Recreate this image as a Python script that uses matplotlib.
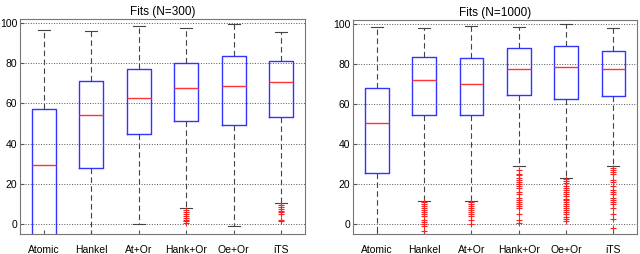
import matplotlib
matplotlib.use("Agg")
import matplotlib.pyplot as plt

plt.rcParams['font.family'] = ['Liberation Sans', 'DejaVu Sans']

labels = ["Atomic", "Hankel", "At+Or", "Hank+Or", "Oe+Or", "iTS"]

# N=300: (lower whisker, Q1, median, Q3, upper whisker)
stats_300 = [
    (-8, -8, 29.5, 57.3, 96.7),
    (-8, 28.0, 54.0, 71.2, 96.0),
    (0.0, 44.7, 62.6, 77.2, 98.6),
    (8.1, 51.0, 67.9, 80.0, 97.6),
    (-1.2, 49.0, 68.8, 83.7, 99.7),
    (10.3, 53.0, 70.6, 81.2, 95.7),
]
fliers_300 = [
    [],
    [],
    [],
    [7, 6, 5, 4, 3, 2, 1.5, 0.5],
    [],
    [9.5, 8.5, 7.5, 6.5, 6, 5, 2, 1.5],
]

# N=1000
stats_1000 = [
    (-8, 25.6, 50.7, 68.1, 98.6),
    (11.6, 54.6, 72.1, 83.4, 98.0),
    (11.6, 54.3, 70.1, 83.0, 98.9),
    (28.9, 64.4, 77.7, 87.8, 98.5),
    (23.1, 62.4, 78.4, 88.8, 99.8),
    (29.2, 63.8, 77.7, 86.7, 98.0),
]
fliers_1000 = [
    [],
    [11, 10, 9, 8, 7, 6, 5, 4, 2, 1, 0, -1, -3.5],
    [11, 10, 9, 8, 7, 6, 5, 4, 2, 0],
    [27, 25, 24.5, 23, 22, 21, 20, 19, 18, 16, 15, 13, 12, 11, 10, 9, 8, 5, 2, 0.5],
    [22.5, 21.5, 20.5, 19, 18, 17, 16, 15, 14, 12.5, 12, 11, 10, 9, 8, 7, 6, 5, 3.5, 2.5, 1.5],
    [28, 27, 26, 25, 22, 21, 19, 17, 16, 15, 13, 12, 11, 10, 8, 5, 2.5, -2],
]

titles = ["Fits (N=300)", "Fits (N=1000)"]


def make_stats(stats, fliers):
    out = []
    for (lo, q1, med, q3, hi), fl in zip(stats, fliers):
        out.append(dict(whislo=lo, q1=q1, med=med, q3=q3, whishi=hi, fliers=fl))
    return out


fig = plt.figure(figsize=(6.4, 2.54), dpi=100)
positions = [[20 / 640, 1 - 234 / 254, 285 / 640, 215 / 254],
             [353 / 640, 1 - 234 / 254, 284 / 640, 214 / 254]]

for pos, st, fl, title in zip(positions, [stats_300, stats_1000],
                              [fliers_300, fliers_1000], titles):
    ax = fig.add_axes(pos)
    ax.bxp(make_stats(st, fl), positions=range(1, 7), widths=0.5,
           boxprops=dict(color='#3333ff', linewidth=1.0),
           medianprops=dict(color='#ff3333', linewidth=1.0),
           whiskerprops=dict(color='#444444', linestyle=(0, (5, 3)), linewidth=0.8),
           capprops=dict(color='#444444', linewidth=0.8),
           flierprops=dict(marker='+', markeredgecolor='#ff2020', markersize=4,
                           markeredgewidth=0.8, linestyle='none'),
           capwidths=0.25)
    ax.set_xlim(0.5, 6.5)
    ax.set_ylim(-5, 102)
    ax.set_yticks([0, 20, 40, 60, 80, 100])
    ax.set_xticks(range(1, 7))
    ax.set_xticklabels(labels)
    ax.yaxis.grid(True, linestyle=':', color='#555555', linewidth=0.7)
    ax.set_axisbelow(True)
    ax.tick_params(direction='in', labelsize=7.5, length=3, color='#555555')
    ax.tick_params(axis='y', pad=2)
    ax.tick_params(axis='x', pad=8)
    for s in ax.spines.values():
        s.set_color('#777777')
    ax.set_title(title, fontsize=8.5, pad=3)

fig.savefig("out.png", dpi=100)
